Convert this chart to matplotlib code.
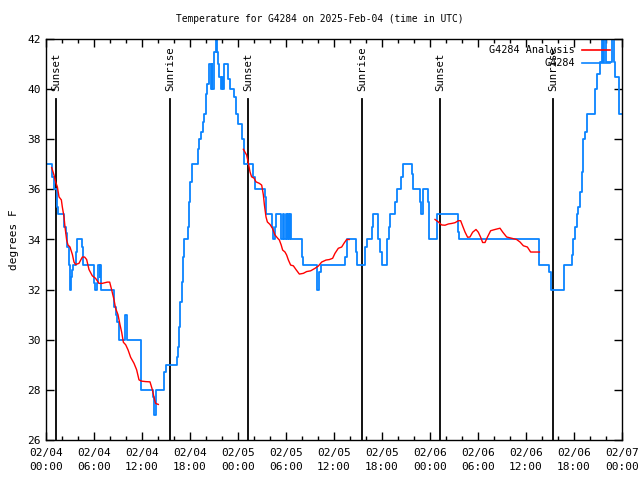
import matplotlib
matplotlib.use("Agg")
import matplotlib.pyplot as plt
from matplotlib.lines import Line2D
import numpy as np

# ---- data (hours since 2025-02-04 00:00 UTC, degrees F) ----
obs_t = [0, 0.8, 1.0, 1.42, 1.5, 2.25, 2.46, 2.67, 2.875, 2.96, 3.04, 3.125, 3.25, 3.33,
         3.79, 3.92, 4.46, 4.67, 6.0, 6.125, 6.42, 6.54, 6.7, 6.75, 6.92, 8.5, 8.71, 8.92,
         9.125, 9.875, 10.08, 11.83, 13.42, 13.5, 13.7, 13.79, 14.75, 15.0, 16.33, 16.46,
         16.62, 16.75, 16.96, 17.17, 17.29, 17.79, 17.875, 18.04, 18.2, 18.96, 19.17,
         19.375, 19.58, 19.79, 19.96, 20.17, 20.42, 20.58, 20.7, 20.79, 21.04, 21.25,
         21.375, 21.54, 21.67, 21.83, 21.96, 22.08, 22.21, 22.79, 23.04, 23.46, 23.71,
         24.04, 24.46, 24.75, 25.92, 26.125, 27.375, 27.5, 28.2, 28.33, 28.625, 28.75,
         29.42, 29.6, 29.8, 29.95, 30.1, 30.25, 30.4, 30.5, 30.6, 31.96, 32.17, 33.92,
         34.17, 34.33, 37.42, 37.58, 38.71, 38.92, 39.875, 40.17, 40.71, 40.92, 41.42,
         41.54, 41.75, 41.96, 42.46, 42.58, 42.92, 43.0, 43.625, 43.83, 44.33, 44.58,
         45.71, 45.92, 46.75, 46.92, 47.08, 47.71, 47.83, 47.92, 48.83, 51.46, 51.6,
         61.67, 62.9, 63.1, 64.75, 65.71, 65.83, 65.92, 66.125, 66.33, 66.54, 66.75,
         66.96, 67.08, 67.17, 67.375, 67.58, 68.6, 68.83, 69.25, 69.46, 69.6, 69.8,
         69.95, 70.75, 70.95, 71.1, 71.625, 72.0]
obs_v = [37.0, 36.5, 36.0, 35.3, 35.0, 34.5, 34.25, 33.7, 33.0, 32.5, 32.0, 32.5, 32.8, 33.0,
         33.5, 34.0, 33.7, 33.0, 32.25, 32.0, 32.25, 33.0, 32.5, 33.0, 32.0, 31.3, 31.0, 30.7,
         30.0, 31.0, 30.0, 28.0, 27.7, 27.0, 27.7, 28.0, 28.7, 29.0, 29.3, 29.7,
         30.5, 31.5, 32.3, 33.3, 34.0, 34.5, 35.5, 36.3, 37.0, 37.6, 38.0,
         38.3, 38.7, 39.0, 39.8, 40.2, 41.0, 40.0, 41.0, 40.0, 41.5, 42.0,
         41.5, 41.0, 40.5, 40.0, 40.5, 40.0, 41.0, 40.4, 40.0, 39.7, 39.0,
         38.6, 38.0, 37.0, 36.5, 36.0, 35.7, 35.0, 34.5, 34.0, 34.5, 35.0,
         34.0, 35.0, 34.0, 35.0, 34.0, 35.0, 34.0, 35.0, 34.0, 33.3, 33.0, 32.0,
         32.7, 33.0, 33.3, 34.0, 33.5, 33.0, 33.7, 34.0, 34.5, 35.0, 35.0,
         34.0, 33.5, 33.0, 33.0, 34.0, 34.5, 35.0, 35.5, 36.0, 36.5, 37.0,
         36.6, 36.0, 35.5, 35.0, 36.0, 35.5, 35.0, 34.0, 35.0, 34.3, 34.0,
         33.0, 32.7, 32.0, 33.0, 33.4, 33.7, 34.0, 34.5, 35.0, 35.3, 35.9,
         36.7, 37.25, 38.0, 38.3, 39.0, 40.0, 40.6, 41.1, 42.0, 41.1, 42.0,
         41.1, 42.0, 41.1, 40.5, 39.0, 39.0]

ana1_t = [0.71, 1.0, 1.2, 1.42, 1.625, 1.92, 2.04, 2.25, 2.375, 2.58, 2.75, 3.0, 3.3, 3.5,
          3.7, 4.125, 4.54, 4.83, 5.08, 5.375, 5.79, 6.2, 6.625, 7.04, 7.67, 7.96, 8.2,
          8.5, 8.7, 9.0, 9.25, 9.46, 9.67, 9.96, 10.25, 10.58, 11.0, 11.33, 11.625,
          11.92, 12.46, 13.0, 13.3, 13.5, 13.7, 14.04]
ana1_v = [36.87, 36.57, 36.3, 36.1, 35.7, 35.58, 35.3, 34.9, 34.5, 33.98, 33.78, 33.7, 33.4,
          33.1, 33.0, 33.05, 33.3, 33.3, 33.2, 32.8, 32.55, 32.45, 32.25, 32.25, 32.3, 32.3,
          32.0, 31.6, 31.25, 31.0, 30.6, 30.3, 29.9, 29.8, 29.6, 29.3, 29.06, 28.8, 28.4,
          28.35, 28.33, 28.32, 28.0, 27.7, 27.46, 27.42]
ana2_t = [24.67, 25.08, 25.3, 25.5, 25.7, 26.0, 26.25, 26.67, 26.96, 27.17, 27.3, 27.5,
          27.67, 28.0, 28.3, 28.625, 28.96, 29.17, 29.4, 29.58, 29.875, 30.08, 30.3, 30.58,
          30.92, 31.25, 31.67, 32.17, 32.58, 33.08, 33.625, 34.04, 34.46, 35.0, 35.42,
          35.83, 36.125, 36.54, 36.96, 37.25, 37.58, 37.9]
ana2_v = [37.6, 37.37, 37.04, 36.7, 36.5, 36.45, 36.3, 36.24, 36.17, 35.78, 35.38, 34.9,
          34.7, 34.6, 34.45, 34.18, 34.05, 33.98, 33.78, 33.58, 33.5, 33.38, 33.18, 32.98,
          32.95, 32.8, 32.62, 32.65, 32.72, 32.75, 32.85, 32.94, 33.1, 33.18, 33.2,
          33.25, 33.45, 33.65, 33.7, 33.85, 34.0, 34.0]
ana3_t = [48.625, 49.04, 49.46, 49.875, 50.3, 50.7, 51.125, 51.54, 51.83, 52.08, 52.375,
          52.7, 53.0, 53.33, 53.75, 54.04, 54.33, 54.58, 54.875, 55.17, 55.58, 56.125,
          56.75, 57.08, 57.58, 58.2, 58.83, 59.25, 59.67, 60.17, 60.58, 61.125, 61.67]
ana3_v = [34.8, 34.7, 34.58, 34.57, 34.62, 34.64, 34.67, 34.75, 34.75, 34.54, 34.3,
          34.09, 34.1, 34.29, 34.4, 34.29, 34.09, 33.88, 33.88, 34.09, 34.35, 34.4,
          34.45, 34.3, 34.1, 34.05, 34.0, 33.9, 33.75, 33.7, 33.5, 33.5, 33.5]

sun_t = [1.25, 15.5, 25.25, 39.5, 49.25, 63.4]
sun_lbl = ["Sunset", "Sunrise", "Sunset", "Sunrise", "Sunset", "Sunrise"]

xtick_pos = list(range(0, 73, 6))
xtick_lbl = ["02/04\n00:00", "02/04\n06:00", "02/04\n12:00", "02/04\n18:00",
             "02/05\n00:00", "02/05\n06:00", "02/05\n12:00", "02/05\n18:00",
             "02/06\n00:00", "02/06\n06:00", "02/06\n12:00", "02/06\n18:00",
             "02/07\n00:00"]
ytick_pos = list(range(26, 43, 2))

# ---- figure ----
plt.rcParams['font.family'] = ['DejaVu Sans Mono']
fig = plt.figure(figsize=(6.4, 4.8), dpi=100)
ax = fig.add_axes([46/640, 40/480, 576/640, 401/480])

blue = '#0a84ff'
red = '#ff0000'
for tt, vv in [(ana1_t, ana1_v), (ana2_t, ana2_v), (ana3_t, ana3_v)]:
    ax.plot(tt, vv, color=red, lw=1.0, zorder=3)
ax.step(obs_t, obs_v, where='post', color=blue, lw=1.3, zorder=2)

for st, sl in zip(sun_t, sun_lbl):
    ax.axvline(st, ymin=0, ymax=0.850, color='black', lw=1.3, zorder=1)
    ax.text(st, 0.870, sl, rotation=90, ha='center', va='bottom', fontsize=7.7,
            transform=ax.get_xaxis_transform())

ax.set_xlim(0, 72)
ax.set_ylim(26, 42)
ax.set_xticks(xtick_pos)
ax.set_xticklabels(xtick_lbl, fontsize=8, linespacing=1.5)
ax.set_xticks(np.arange(0, 73, 2), minor=True)
ax.set_yticks(ytick_pos)
ax.set_yticklabels([str(v) for v in ytick_pos], fontsize=8)
ax.tick_params(which='both', direction='in', top=True, right=True, width=1)
ax.tick_params(which='major', length=6, pad=4)
ax.tick_params(which='minor', length=3)
ax.tick_params(axis='x', which='major', pad=6)
for s in ax.spines.values():
    s.set_linewidth(1)

ax.set_ylabel('degrees F', fontsize=8, labelpad=6)
fig.text(0.5, 1 - 19/480, 'Temperature for G4284 on 2025-Feb-04 (time in UTC)',
         ha='center', va='center', fontsize=6.9)

# legend (gnuplot style: right-aligned text, sample line at right)
tr = ax.transAxes
for lbl, col, yy in [("G4284 Analysis", red, 0.9726), ("G4284", blue, 0.940)]:
    ax.text(0.918, yy, lbl, ha='right', va='center', fontsize=7.3, transform=tr)
    ax.add_line(Line2D([0.930, 0.979], [yy, yy], color=col, lw=1.2, transform=tr))

fig.savefig('out.png', dpi=100)
